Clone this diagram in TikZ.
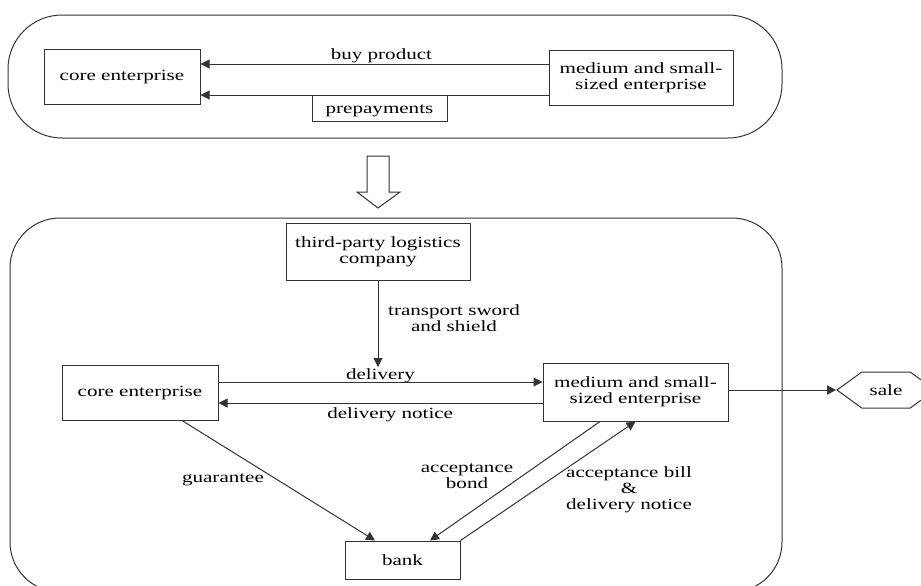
\documentclass[tikz,border=0pt]{standalone}
\usepackage{fontspec}
\setmainfont{Liberation Serif}[FakeStretch=1.35]
\usetikzlibrary{arrows.meta,shapes.symbols}
\newcommand{\boxfont}{\fontsize{7.8}{8}\selectfont}
\tikzset{
  boxnode/.style={draw=black!80,line width=0.5pt,rectangle,align=center,inner sep=1pt,font=\boxfont,text=black},
  lblnode/.style={align=center,inner sep=0pt,font=\boxfont,text=black},
  salenode/.style={boxnode,signal,signal to=east and west,signal pointer angle=72,
    minimum width=49pt,minimum height=18pt},
  flow/.style={-{Triangle[length=4.5pt,width=4.5pt]},line width=0.5pt,black!80},
  frame/.style={draw=black!80,line width=0.5pt},
}

\begin{document}
\begin{tikzpicture}[x=0.5pt,y=-0.5pt]
    \useasboundingbox (0,0) rectangle (921,585);
    % before
    \draw[frame,rounded corners=27pt] (8,15) rectangle (782,138);
    \node[boxnode,minimum width=78pt,minimum height=27.5pt] (core1) at (122,76.5) {core enterprise};
    \node[boxnode,minimum width=92pt,minimum height=27.5pt] (sme1) at (641,77.5) {medium and small-\\sized enterprise};
    \draw[flow] ([yshift=6.75pt]sme1.west) -- ([yshift=6.75pt]sme1.west -| core1.east)
      node[lblnode,pos=0.48,above=0.5pt] {buy product};
    \draw[flow] ([yshift=-8.75pt]sme1.west) -- ([yshift=-8.75pt]sme1.west -| core1.east);
    \node[boxnode,minimum width=67.5pt,minimum height=13pt,text height=6pt,text depth=1pt] (prepay) at (379.5,108) {prepayments};
    % hollow arrow
    \draw[frame] (367,156) -- (389,156) -- (389,192) -- (400,192) -- (378,208)
      -- (357,192) -- (367,192) -- cycle;
    % after
    \draw[frame,rounded corners=25pt] (10,218) rectangle (782,592);
    \node[boxnode,minimum width=92pt,minimum height=28.5pt] (tpl) at (378,251.5) {third-party logistics\\company};
    \node[boxnode,minimum width=78pt,minimum height=27.5pt] (core2) at (140,392.5) {core enterprise};
    \node[boxnode,minimum width=92.5pt,minimum height=29pt] (sme2) at (635.5,392) {medium and small-\\sized enterprise};
    \node[boxnode,minimum width=57.5pt,minimum height=19pt] (bank) at (402.5,560) {bank};
    \node[salenode] (sale) at (886,390) {sale};
    \coordinate (dlv) at (378,367);
    \draw[flow] (tpl.south) -- (dlv);
    \node[lblnode] at (454,318) {transport sword\\and shield};
    \draw[flow] ([yshift=5.25pt]core2.east) -- ([yshift=5.25pt]core2.east -| sme2.west)
      node[lblnode,pos=0.5,above=-0.5pt] {delivery};
    \draw[flow] ([yshift=-5.25pt]core2.east -| sme2.west) -- ([yshift=-5.25pt]core2.east)
      node[lblnode,pos=0.47,below=2pt] {delivery notice};
    \draw[flow] (sme2.east |- sale.west) -- (sale.west);
    \draw[flow] ([xshift=21pt]core2.south) -- ([xshift=-13.75pt]bank.north);
    \node[lblnode] at (223,480) {guarantee};
    \draw[flow] ([xshift=-17.75pt]sme2.south) -- ([xshift=13.75pt]bank.north);
    \node[lblnode] at (467,476) {acceptance\\bond};
    \draw[flow] (bank.north east) -- (sme2.south);
    \node[lblnode] at (629,490) {acceptance bill\\\&\\delivery notice};
\end{tikzpicture}
\end{document}
